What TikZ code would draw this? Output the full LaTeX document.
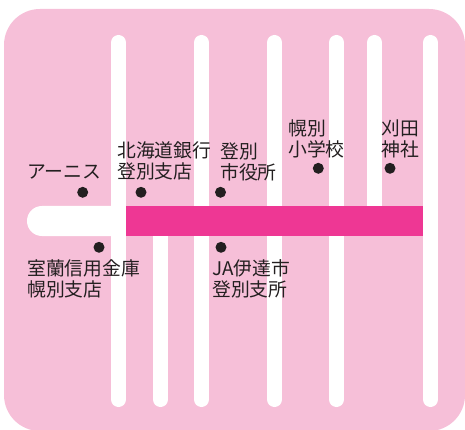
\documentclass[tikz,border=0pt]{standalone}
\usepackage{fontspec}
\setmainfont{Noto Sans CJK JP}
\definecolor{mapbg}{HTML}{F6BFD8}
\definecolor{mainroad}{HTML}{EE3794}
\definecolor{labeltext}{HTML}{231F20}
\tikzset{
  road/.style={white,line width=15pt,line cap=round},
  place/.style={circle,fill=labeltext,inner sep=0pt,minimum size=11pt},
  label text/.style={anchor=west,align=left,inner sep=0pt,text=labeltext,
    font=\fontsize{18.8}{21}\selectfont}
}

\begin{document}
\begin{tikzpicture}[x=1pt,y=-1pt]
  \useasboundingbox (0,0) rectangle (465,430);
  \fill[mapbg,rounded corners=36pt] (4,9) rectangle (465,431);
  % streets
  \draw[road] (118.5,42.5) -- (118.5,399.5);
  \draw[road] (160.5,221) -- (160.5,399.5);
  \draw[road] (201.5,42.5) -- (201.5,399.5);
  \draw[road] (274.5,42.5) -- (274.5,399.5);
  \draw[road] (336.5,42.5) -- (336.5,399.5);
  \draw[road] (374.5,42.5) -- (374.5,221);
  \draw[road] (430.5,42.5) -- (430.5,399.5);
  % main street
  \fill[white,rounded corners=14.9pt] (27,206) rectangle (140,236);
  \fill[mainroad] (126,206) rectangle (423,236);
  % places
  \node[place] (arnis) at (82.7,192.3) {};
  \node[place] (hokkaido) at (141,192.3) {};
  \node[place] (shiyakusho) at (220.5,192.3) {};
  \node[place] (muroran) at (99,247.3) {};
  \node[place] (ja) at (221,247.3) {};
  \node[place] (school) at (318.3,168.3) {};
  \node[place] (shrine) at (390,168.3) {};
  % labels
  \node[label text] (arnislabel) at (27,172) {アーニス};
  \node[label text] (hokkaidolabel) at (117,160.5) {北海道銀行\\登別支店};
  \node[label text] (shiyakusholabel) at (220,161.5) {登別\\市役所};
  \node[label text] (muroranlabel) at (27,278.5) {室蘭信用金庫\\幌別支店};
  \node[label text] (jalabel) at (212,278.5) {JA伊達市\\登別支所};
  \node[label text] (schoollabel) at (288,139) {幌別\\小学校};
  \node[label text] (shrinelabel) at (381,139) {刈田\\神社};
\end{tikzpicture}
\end{document}
